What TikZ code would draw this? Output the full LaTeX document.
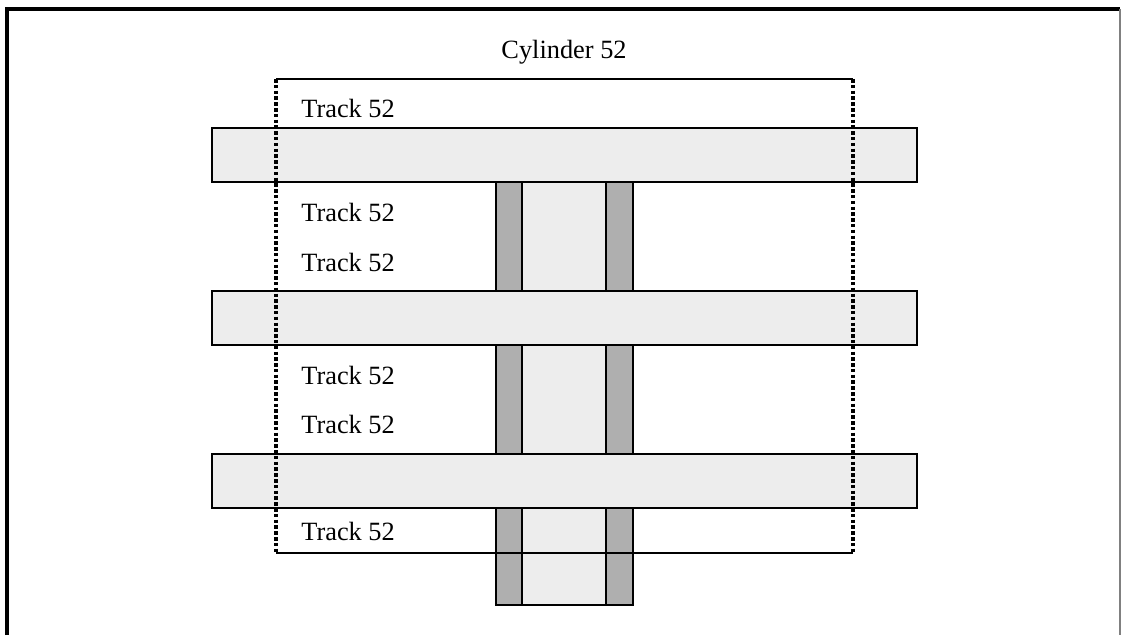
\documentclass[tikz,border=0pt]{standalone}
\usepackage{fontspec}
\setmainfont{Liberation Serif}
\usepackage{tikz}
\definecolor{diskLight}{HTML}{EDEDED}
\definecolor{diskDark}{HTML}{AFAFAF}
\definecolor{frameGray}{HTML}{808080}

\begin{document}
\begin{tikzpicture}[x=0.02cm, y=-0.02cm,
    platter/.style={draw=black, fill=diskLight, line width=1.5pt},
    hub/.style={draw=black, fill=diskDark, line width=1.5pt},
    label/.style={font=\fontsize{15}{18}\selectfont, inner sep=0pt}]
    \useasboundingbox (0,0) rectangle (1121,635);
    % page frame (open at the bottom)
    \draw[line width=2pt] (7,635) -- (7,9) -- (1120,9);
    \draw[frameGray, line width=1.2pt] (1120,9) -- (1120,635);
    % spindle
    \draw[platter] (522,128) rectangle (606,605);
    \draw[hub] (496,128) rectangle (522,605);
    \draw[hub] (606,128) rectangle (633,605);
    % platters
    \foreach \y in {128,291,454}
        \draw[platter] (212,\y) rectangle (917,\y+54);
    % cylinder outline
    \draw[line width=1.4pt] (276,79) -- (853,79);
    \draw[line width=1.4pt] (276,553) -- (853,553);
    \draw[line width=1.8pt, dash pattern=on 2pt off 1.3pt] (276,79) -- (276,553);
    \draw[line width=1.8pt, dash pattern=on 2pt off 1.3pt] (853,79) -- (853,553);
    % labels
    \node[label] (cyl) at (564,52) {Cylinder 52};
    \node[label, anchor=west] (t1) at (301,108) {Track 52};
    \node[label, anchor=west] (t2) at (301,212) {Track 52};
    \node[label, anchor=west] (t3) at (301,262) {Track 52};
    \node[label, anchor=west] (t4) at (301,375) {Track 52};
    \node[label, anchor=west] (t5) at (301,424) {Track 52};
    \node[label, anchor=west] (t6) at (301,531) {Track 52};
\end{tikzpicture}
\end{document}
